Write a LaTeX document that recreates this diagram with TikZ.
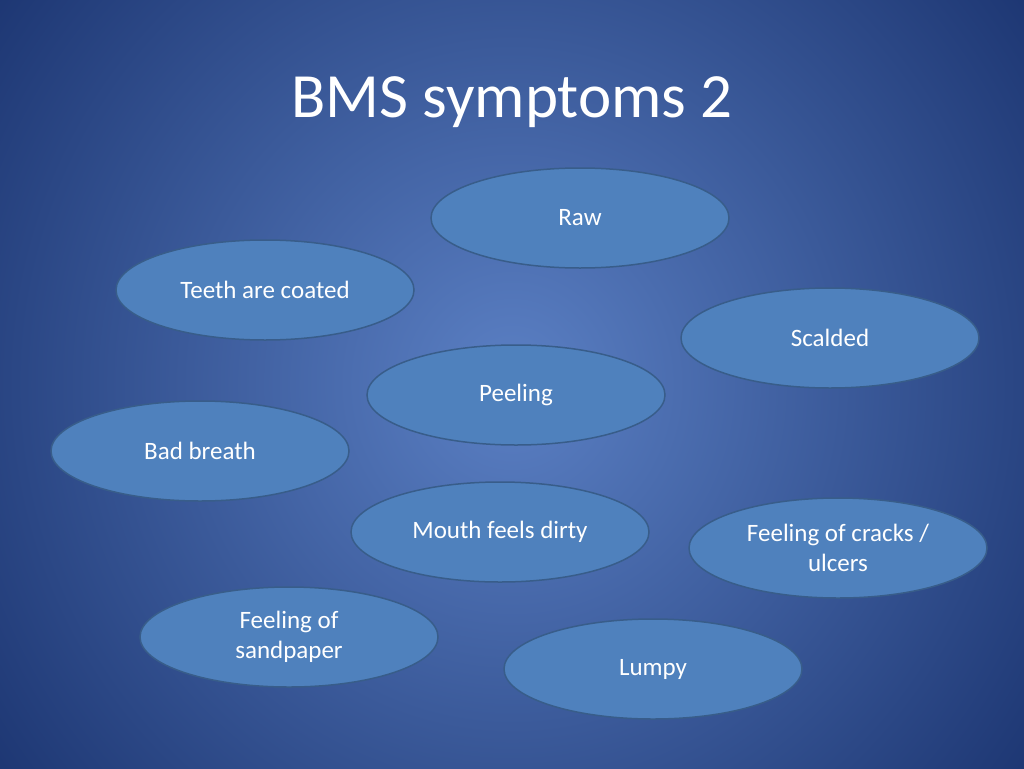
\documentclass[tikz,border=0pt]{standalone}
\usepackage{fontspec}
\setmainfont{Carlito}
\usetikzlibrary{shapes.geometric}
\definecolor{bubble}{HTML}{4F81BD}
\definecolor{edge}{HTML}{385D8A}
\definecolor{bgin}{HTML}{5B80C4}
\definecolor{bgout}{HTML}{1B3470}
\begin{document}
\begin{tikzpicture}[x=1pt,y=-1pt,
  bub/.style={ellipse,draw=edge,line width=1.5pt,fill=bubble,minimum width=298pt,minimum height=100pt,text=white,font=\fontsize{25}{30}\selectfont,align=center,inner sep=0pt}]
\useasboundingbox (0,0) rectangle (1024,768);
\shade[inner color=bgin,outer color=bgout] (-150,-300) rectangle (1174,1068);
\node[text=white,font=\fontsize{63}{70}\selectfont] (title) at (512,102) {BMS symptoms 2};
\node[bub] (raw) at (580,218) {Raw};
\node[bub] (teeth) at (265,290) {Teeth are coated};
\node[bub] (scalded) at (830,338) {Scalded};
\node[bub] (peeling) at (516,395) {Peeling};
\node[bub] (bad) at (200,451) {Bad breath};
\node[bub] (mouth) at (500,532) {Mouth feels dirty};
\node[bub] (cracks) at (838,548) {Feeling of cracks /\\ulcers};
\node[bub] (sand) at (289,637) {Feeling of\\sandpaper};
\node[bub] (lumpy) at (653,669) {Lumpy};
\end{tikzpicture}
\end{document}
